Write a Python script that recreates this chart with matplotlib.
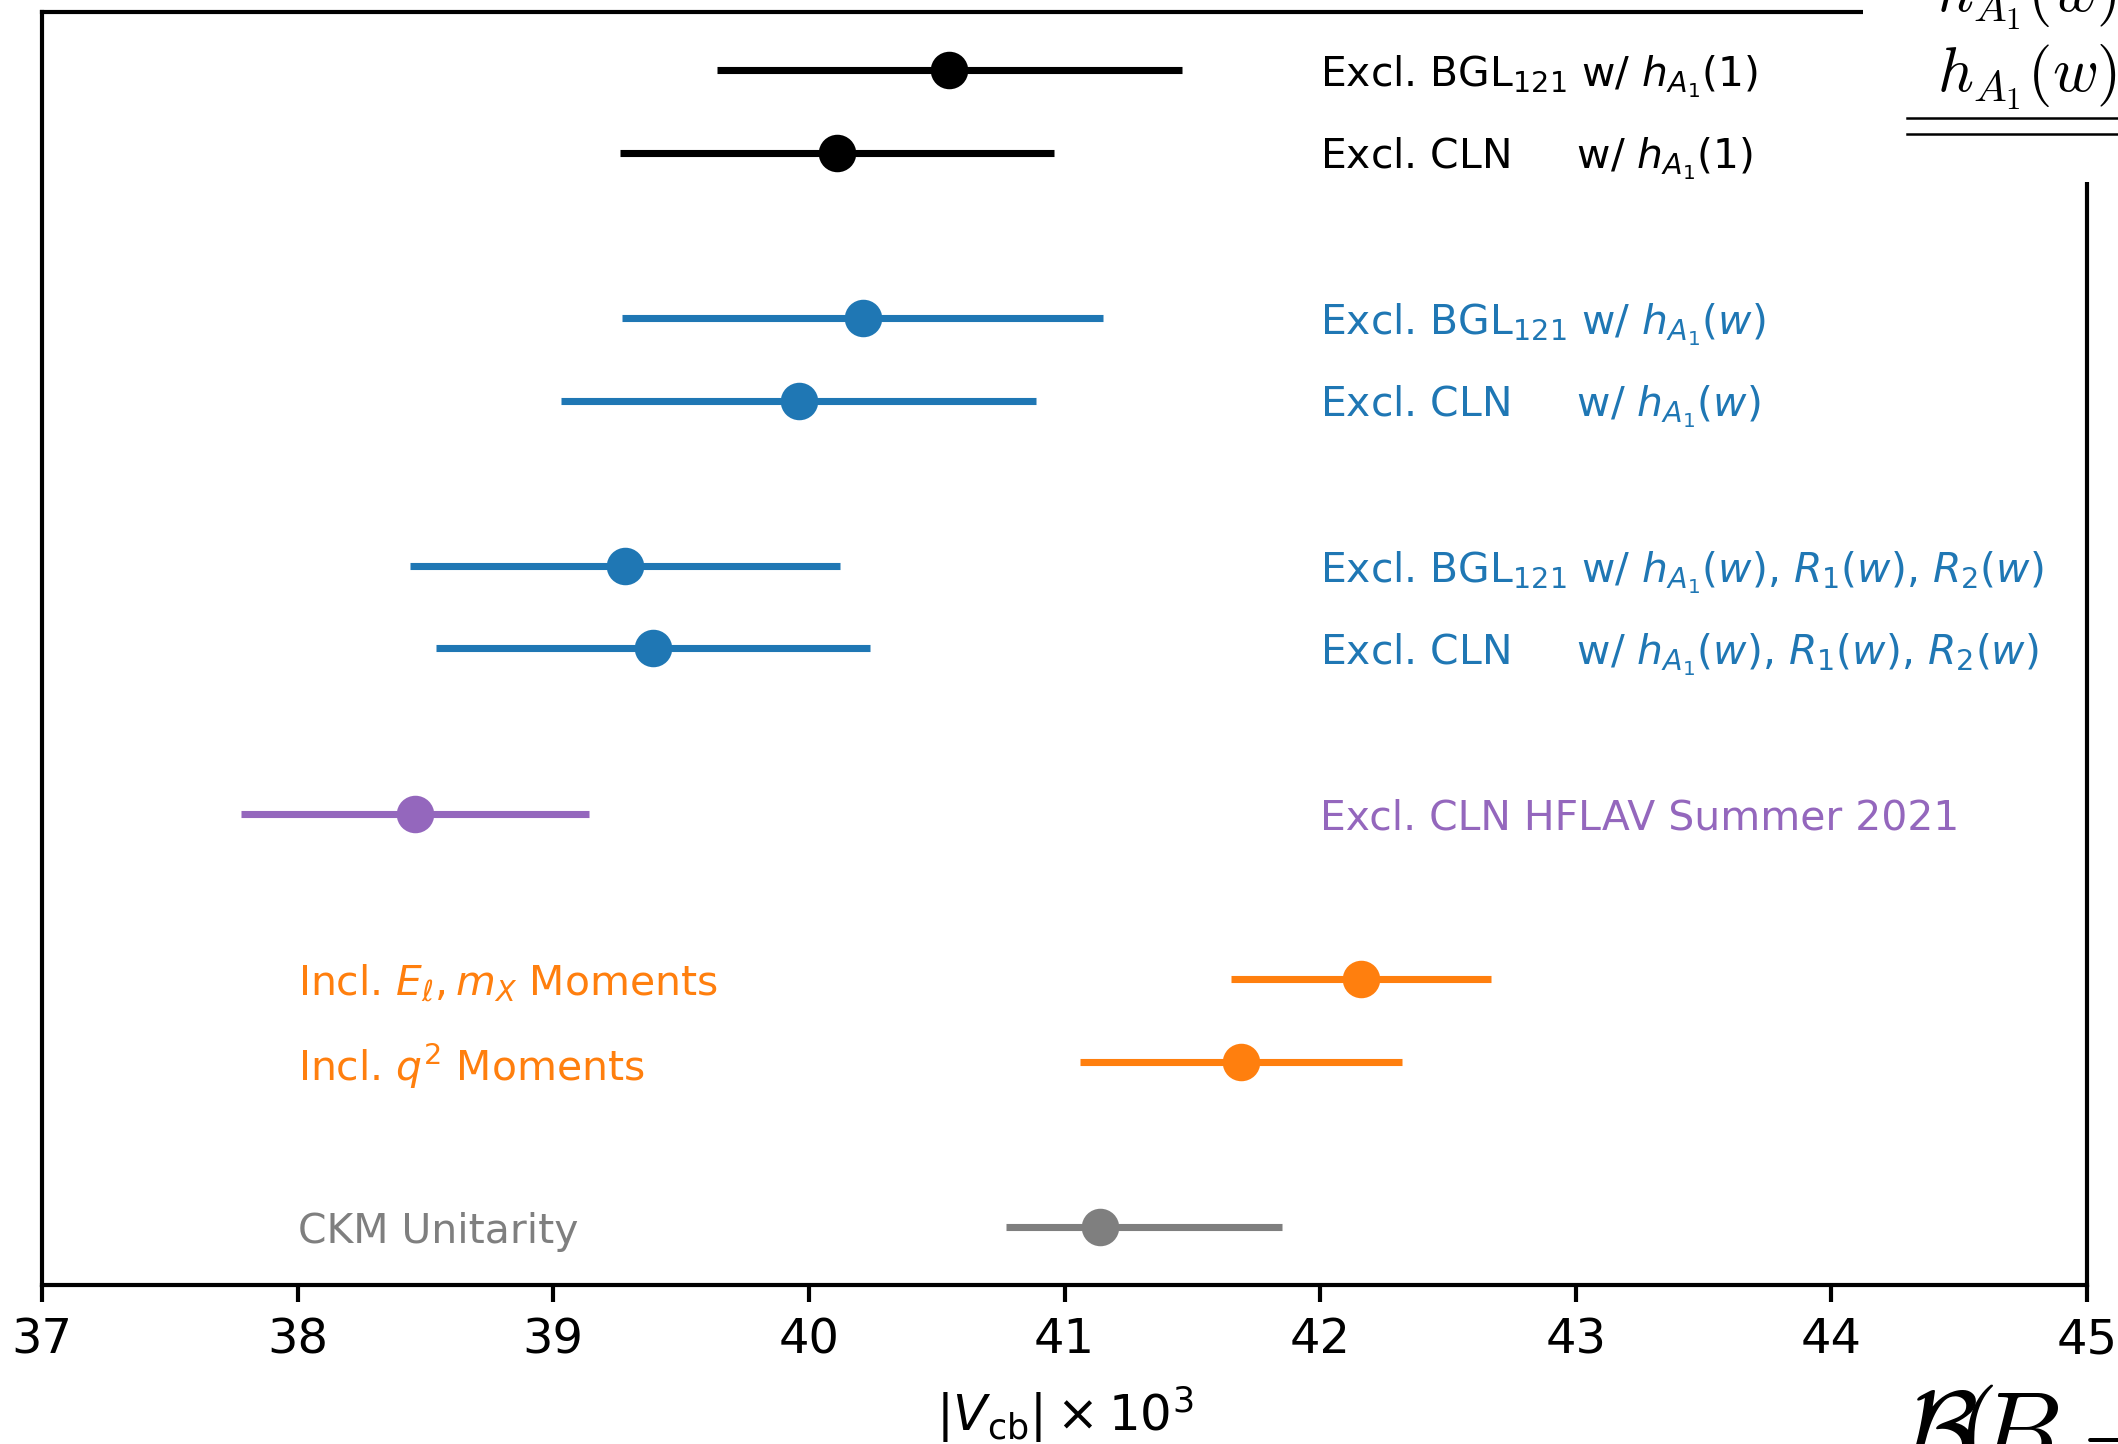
import matplotlib
matplotlib.use("Agg")
import matplotlib.pyplot as plt
from matplotlib.patches import Rectangle
from matplotlib.lines import Line2D

# |Vcb| x 10^3 determinations: central value, lower and upper uncertainty
labels = [
    r"Excl. BGL$_{121}$ w/ $h_{A_1}(1)$",
    r"Excl. CLN     w/ $h_{A_1}(1)$",
    r"Excl. BGL$_{121}$ w/ $h_{A_1}(w)$",
    r"Excl. CLN     w/ $h_{A_1}(w)$",
    r"Excl. BGL$_{121}$ w/ $h_{A_1}(w)$, $R_1(w)$, $R_2(w)$",
    r"Excl. CLN     w/ $h_{A_1}(w)$, $R_1(w)$, $R_2(w)$",
    "Excl. CLN HFLAV Summer 2021",
    r"Incl. $E_\ell, m_X$ Moments",
    r"Incl. $q^2$ Moments",
    "CKM Unitarity",
]
values = [40.55, 40.11, 40.21, 39.96, 39.28, 39.39, 38.46, 42.16, 41.69, 41.14]
err_lo = [0.91, 0.85, 0.94, 0.93, 0.84, 0.85, 0.68, 0.51, 0.63, 0.37]
err_hi = [0.91, 0.85, 0.94, 0.93, 0.84, 0.85, 0.68, 0.51, 0.63, 0.71]
rows = [14, 13, 11, 10, 8, 7, 5, 3, 2, 0]
colors = ["black", "black", "tab:blue", "tab:blue", "tab:blue", "tab:blue",
          "tab:purple", "tab:orange", "tab:orange", "tab:gray"]
label_x = [42.0, 42.0, 42.0, 42.0, 42.0, 42.0, 42.0, 38.0, 38.0, 38.0]

xticks = [37, 38, 39, 40, 41, 42, 43, 44, 45]

plt.rcParams["font.size"] = 10
plt.rcParams["axes.linewidth"] = 1.0
plt.rcParams["xtick.major.width"] = 1.0
plt.rcParams["xtick.major.size"] = 4.0

fig = plt.figure(figsize=(2118 / 300, 1444 / 300), dpi=300)
ax = fig.add_axes([42 / 2118, 1 - 1285 / 1444, (2087 - 42) / 2118, (1285 - 12) / 1444])

for v, lo, hi, r, c, lab, lx in zip(values, err_lo, err_hi, rows, colors, labels, label_x):
    ax.errorbar(v, r, xerr=[[lo], [hi]], fmt="o", color=c, ms=8,
                elinewidth=1.7, capsize=0)
    ax.text(lx, r, lab, color=c, fontsize=9.8, va="center_baseline", ha="left")

ax.set_xlim(37, 45)
ax.set_ylim(-0.7, 14.7)
ax.set_xticks(xticks)
ax.set_yticks([])
ax.tick_params(axis="x", labelsize=11.5, pad=3.5)
ax.set_xlabel(r"$|V_{\rm cb}| \times 10^3$", fontsize=12, labelpad=5)

# Neighbouring table panel overlapping the upper right corner
fig.patches.append(Rectangle((1863 / 2118, 1 - 182 / 1444), 1, 1,
                             transform=fig.transFigure, facecolor="white",
                             edgecolor="none", zorder=5))
for yy in (118, 134):
    fig.lines.append(Line2D([1907 / 2118, 1.0], [1 - yy / 1444] * 2,
                            transform=fig.transFigure, color="black",
                            lw=0.6, zorder=6))
serif = {"math_fontfamily": "cm", "zorder": 7}
fig.text(2117 / 2118, 1 - 92 / 1444, r"$h_{A_1}(w)$", ha="right",
         va="baseline", fontsize=15, **serif)
fig.text(2117 / 2118, 1 - 12 / 1444, r"$h_{A_1}(w)$", ha="right",
         va="baseline", fontsize=15, **serif)

# Neighbouring panel's axis title along the lower right edge
title_parts = [r"$\mathcal{B}$", r"$($", r"$B$", r"$\to D^* \ell \nu)$"]
title_x = [1903, 1956, 1975, 2062]
for part, px in zip(title_parts, title_x):
    fig.text(px / 2118, 1 - 1467 / 1444, part, ha="left", va="baseline",
             fontsize=26, **serif)

fig.savefig("out.png", dpi=300)
